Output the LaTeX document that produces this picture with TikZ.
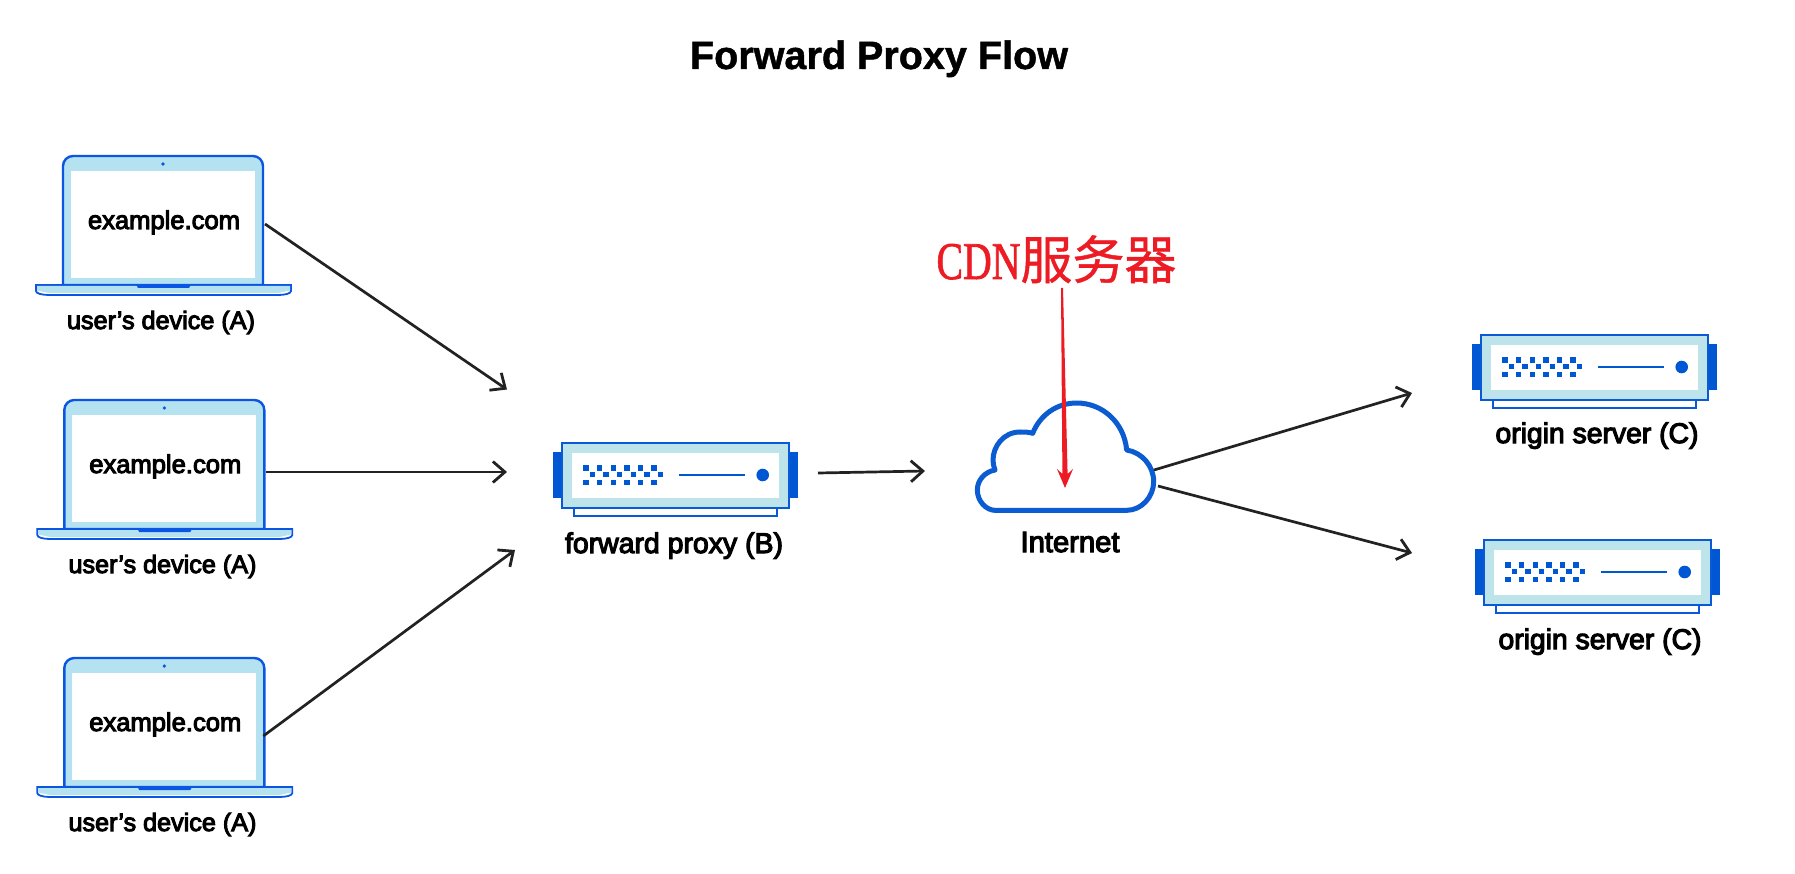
\documentclass[tikz,border=0pt]{standalone}
\usepackage{graphicx}
\usepackage{fontspec}
\usetikzlibrary{arrows.meta}
\setmainfont{Liberation Sans}
\newfontfamily\medfont[FakeBold=4]{Liberation Sans}
\newfontfamily\boldfont[FakeBold=1.2]{Liberation Sans Bold}
\newfontfamily\cdnlatin[FakeBold=1.5]{Liberation Serif}
\newfontfamily\cjk[FakeBold=0.8]{Noto Sans CJK SC}
\definecolor{lapline}{HTML}{0A55E2}
\definecolor{lapfill}{HTML}{B5E2F0}
\definecolor{srvline}{HTML}{0A5AD8}
\definecolor{srvfill}{HTML}{BDE3EB}
\definecolor{srvdark}{HTML}{0057D3}
\definecolor{cloudblue}{HTML}{0B5BD1}
\definecolor{inkline}{HTML}{222222}
\definecolor{cdnred}{HTML}{ED1C24}
\newcommand{\fitw}[2]{\resizebox{#1pt}{!}{#2}}
\tikzset{
  x=1pt,y=-1pt,
  txt/.style={inner sep=0pt,outer sep=0pt,anchor=base,text=black},
  ghost/.style={inner sep=0pt,outer sep=0pt,anchor=north west},
  link/.style={draw=inkline,line width=2.7pt,
    -{Straight Barb[length=12pt,width=21pt,line width=2.8pt]}},
  laptop/.pic={
    \node[ghost,minimum width=200pt,minimum height=129pt] (-lid) at (0,0) {};
    \path[fill=lapfill,draw=lapline,line width=2.4pt]
      (0,129) -- (0,10) .. controls (0,4.5) and (4.5,0) .. (10,0)
      -- (190,0) .. controls (195.5,0) and (200,4.5) .. (200,10) -- (200,129) -- cycle;
    \fill[white] (8,15) rectangle (192,122);
    \fill[lapline] (100,8) circle[radius=1.8];
    \path[fill=white,draw=lapline,line width=1.8pt]
      (-27,129) -- (228,129) -- (228,135)
      .. controls (228,137.5) and (222,139) .. (215,139)
      -- (-14,139) .. controls (-21,139) and (-27,137.5) .. (-27,135) -- cycle;
    \fill[lapfill] (-26,130) -- (227,130) -- (227,134.5) -- (215,137) -- (-14,137) -- (-26,134.5) -- cycle;
    \fill[lapline] (73,128.5) -- (128,128.5) -- (126,132) -- (75,132) -- cycle;
    \node[txt] (-url) at (101,73) {\fitw{152}{\medfont example.com}};
  },
  server/.pic={
    \node[ghost,minimum width=227pt,minimum height=65pt] (-body) at (0,0) {};
    \fill[srvdark] (-9,9) rectangle (0,55);
    \fill[srvdark] (227,9) rectangle (236,55);
    \draw[fill=white,draw=srvline,line width=1.7pt] (12,65) rectangle (215,73);
    \draw[fill=srvfill,draw=srvline,line width=1.9pt] (0,0) rectangle (227,65);
    \fill[white] (10,10) rectangle (217,55);
    \foreach \k in {0,...,5}{
      \fill[srvdark] (21.3+13.6*\k,22.3) rectangle ++(5.4,5.4);
      \fill[srvdark] (27.8+13.6*\k,29) rectangle ++(5.4,5.4);
      \fill[srvdark] (21.3+13.6*\k,36.6) rectangle ++(5.4,5.4);
    }
    \draw[srvdark,line width=1.8pt] (117,32) -- (183,32);
    \fill[srvdark] (200.7,32) circle[radius=6.3];
  }
}
\begin{document}
\begin{tikzpicture}
\useasboundingbox[fill=white] (0,0) rectangle (1795,874);

\node[txt] (title) at (879,69) {\fitw{378}{\boldfont Forward Proxy Flow}};

\pic (lapA) at (63,156) {laptop};
\pic (lapB) at (64.3,400) {laptop};
\pic (lapC) at (64.3,658) {laptop};
\node[txt] (labA) at (161,329) {\fitw{188}{\medfont user’s device (A)}};
\node[txt] (labB) at (162.5,573) {\fitw{188}{\medfont user’s device (A)}};
\node[txt] (labC) at (162.5,831) {\fitw{188}{\medfont user’s device (A)}};

\pic (proxy) at (562,443) {server};
\node[txt] (labP) at (674,553) {\fitw{218}{\medfont forward proxy (B)}};

\pic (srvA) at (1481,335) {server};
\pic (srvB) at (1484,540) {server};
\node[txt] (labS) at (1597,443) {\fitw{203}{\medfont origin server (C)}};
\node[txt] (labT) at (1600,649) {\fitw{203}{\medfont origin server (C)}};

% cloud
\node[ghost,minimum width=177pt,minimum height=106pt] (cloud) at (977,403) {};
\begin{scope}[shift={(900,220)},x=0.33333pt,y=-0.33333pt]
\draw[cloudblue,line width=5pt,line join=round]
  (285,871) -- (680,871)
  .. controls (725,871) and (761,830) .. (761,785)
  .. controls (761,737) and (725,697) .. (680,690)
  .. controls (672,605) and (605,549) .. (530,549)
  .. controls (470,549) and (420,585) .. (398,640)
  .. controls (385,636) and (375,636) .. (360,636)
  .. controls (310,636) and (279,680) .. (279,720)
  .. controls (279,730) and (281,740) .. (285,750)
  .. controls (255,755) and (232,780) .. (232,810)
  .. controls (232,845) and (260,871) .. (285,871) -- cycle;
\end{scope}
\node[txt] (labI) at (1070,552) {\fitw{99}{\medfont Internet}};

% connectors
\draw[link] ([shift={(2,3.5)}]lapA-lid.east) -- ([shift={(-55,-86)}]proxy-body.west);
\draw[link] ([shift={(1.7,7.5)}]lapB-lid.east) -- ([shift={(-55,-3.5)}]proxy-body.west);
\draw[link] ([shift={(-1,13.5)}]lapC-lid.east) -- ([shift={(-47,74.5)}]proxy-body.west);
\draw[link] ([shift={(29,-2.5)}]proxy-body.east) -- ([shift={(-52,15)}]cloud.west);
\draw[link] ([shift={(0,14)}]cloud.east) -- ([shift={(-69,25.5)}]srvA-body.west);
\draw[link] ([shift={(4,30)}]cloud.east) -- ([shift={(-72,-19.5)}]srvB-body.west);

% red annotation
\node[inner sep=0pt,outer sep=0pt,anchor=base,text=cdnred] (cdn) at (1056.5,279)
  {\scalebox{0.75}[1]{\fontsize{53pt}{53pt}\cdnlatin CDN}{\fontsize{52pt}{52pt}\cjk 服务器}};
\coordinate (redTail) at ([shift={(5.5,9)}]cdn.base);
\coordinate (redTip) at ([shift={(-0.5,32)}]cloud.center);
\fill[cdnred] ([shift={(-1,0)}]redTail) -- ([shift={(1,0)}]redTail)
  -- ([shift={(2.6,-14)}]redTip) -- ([shift={(8,-19)}]redTip) -- (redTip)
  -- ([shift={(-8,-19)}]redTip) -- ([shift={(-2.6,-14)}]redTip) -- cycle;
\end{tikzpicture}
\end{document}
